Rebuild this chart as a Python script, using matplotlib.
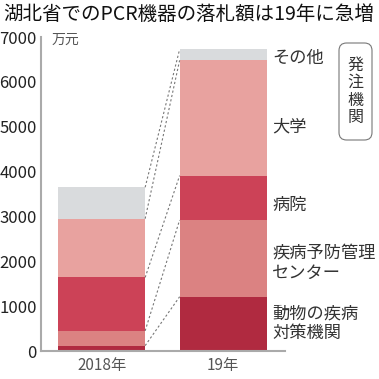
import numpy as np
import matplotlib
matplotlib.use('Agg')
import matplotlib.pyplot as plt
from matplotlib.patches import FancyBboxPatch

plt.rcParams['font.family'] = ['Noto Sans CJK JP', 'DejaVu Sans']

# 単位: 万元
years = ['2018年', '19年']
categories = ['動物の疾病\n対策機関', '疾病予防管理\nセンター', '病院', '大学', 'その他']
values_2018 = [120, 330, 1190, 1310, 700]
values_2019 = [1210, 1710, 990, 2570, 245]
colors = ['#b02a40', '#db8282', '#cc4257', '#e8a29f', '#d9dbdd']
# ラベルの縦位置(データ単位)
label_y = [615, 1975, 3255, 5015, 6530]

fig = plt.figure(figsize=(3.79, 3.79), dpi=100)
ax = fig.add_axes([41 / 379, 28 / 379, 244 / 379, 314 / 379])

x = np.arange(len(years))
w = 0.716
data = np.array([values_2018, values_2019])
bottoms = np.zeros(2)
for i, cat in enumerate(categories):
    ax.bar(x, data[:, i], w, bottom=bottoms, color=colors[i], linewidth=0)
    bottoms += data[:, i]

# 区切りの点線
tops = np.cumsum(data, axis=1)
for i in range(len(categories)):
    ax.plot([x[0] + w / 2, x[1] - w / 2], [tops[0, i], tops[1, i]],
            color='#777777', lw=0.8, ls=(0, (2, 2)))

# 右側のラベル
for i, cat in enumerate(categories):
    ax.text(1.403, label_y[i], cat, fontsize=12.4, color='#333333',
            va='center', ha='left', linespacing=1.15)

ax.set_xlim(-0.5, 1.51)
ax.set_ylim(0, 7000)
ax.set_yticks(np.arange(0, 7001, 1000))
ax.set_xticks(x)
ax.set_xticklabels(years)
ax.tick_params(axis='y', length=0, labelsize=12, labelcolor='#222222', pad=3)
ax.tick_params(axis='x', length=0, labelsize=11, labelcolor='#555555', pad=4)
ax.set_yticks([7000], minor=True)
ax.tick_params(axis='y', which='minor', direction='in', length=5, color='#999999', width=1)

for s in ['top', 'right']:
    ax.spines[s].set_visible(False)
for s in ['left', 'bottom']:
    ax.spines[s].set_color('#aaaaaa')
    ax.spines[s].set_linewidth(1.5)

fig.text(3 / 379, 1 - 4 / 379, '湖北省でのPCR機器の落札額は19年に急増',
         fontsize=14.0, color='#111111', ha='left', va='top')
fig.text(52 / 379, 1 - 40 / 379, '万元', fontsize=10, color='#555555',
         ha='left', va='center')

# 発注機関の枠
box = FancyBboxPatch((339 / 379, 1 - 140 / 379), 33 / 379, 97 / 379,
                     boxstyle='round,pad=0,rounding_size=0.02',
                     transform=fig.transFigure, fc='white', ec='#777777', lw=0.8)
fig.patches.append(box)
fig.text(355.5 / 379, 1 - 91.5 / 379, '発\n注\n機\n関', fontsize=11.5, color='#333333',
         ha='center', va='center', linespacing=1.05)

fig.savefig('out.png', dpi=100)
